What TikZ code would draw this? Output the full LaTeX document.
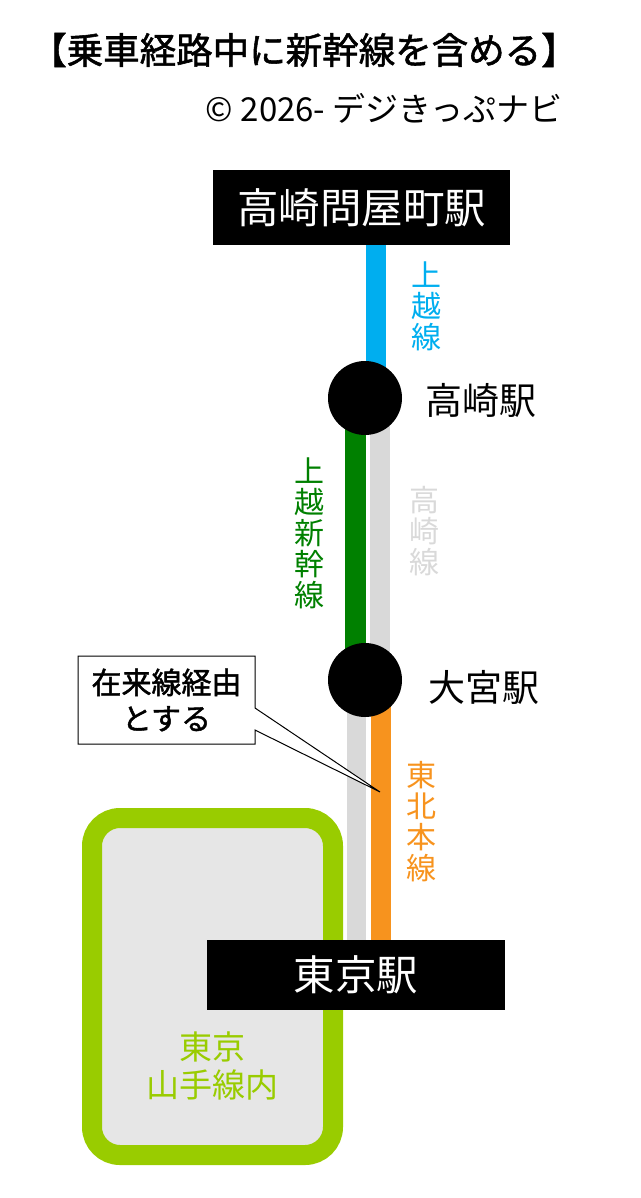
\documentclass[tikz,border=0pt]{standalone}
\usepackage{fontspec}
\setmainfont{Noto Sans CJK JP}
\newfontfamily\jpb{Noto Sans CJK JP}[FakeBold=1.5]
\definecolor{jrblue}{HTML}{00AEEF}
\definecolor{jrgreen}{HTML}{008000}
\definecolor{jrgray}{HTML}{D9D9D9}
\definecolor{jrorange}{HTML}{F7931E}
\definecolor{yam}{HTML}{99CC00}
\definecolor{lg}{HTML}{E6E6E6}
\begin{document}
\begin{tikzpicture}[x=1pt,y=-1pt,
  blk/.style={fill=black,text=white,font=\fontsize{41.5}{41.5}\selectfont,inner sep=0pt},
  stn/.style={circle,fill=black,minimum size=74pt,inner sep=0pt},
  stl/.style={anchor=west,font=\fontsize{37}{37}\selectfont},
  vl/.style={align=center,font=\fontsize{30}{31}\selectfont}]
\useasboundingbox (0,0) rectangle (640,1198);
% lines
\fill[jrblue] (366,245) rectangle (386,398);
\fill[jrgreen] (345,398) rectangle (366,680);
\fill[jrgray] (370,398) rectangle (390,680);
\fill[jrgray] (347,680) rectangle (366,940);
\fill[jrorange] (371,680) rectangle (391,940);
% yamanote
\draw[yam,line width=20pt,fill=lg,rounded corners=28pt] (92,818) rectangle (333,1155);
\node[vl,text=yam,font=\fontsize{33}{38}\selectfont] (ya) at (212,1066) {東京\\山手線内};
% boxes
\node[blk,minimum width=297pt,minimum height=75pt] (t) at (361.5,207.5) {高崎問屋町駅};
\node[blk,minimum width=298pt,minimum height=70pt] (tk) at (356,975) {東京駅};
\node[stn] (s1) at (365,398) {};
\node[stn] (s2) at (365,680) {};
\node[stl] (l1) at (422,400) {高崎駅};
\node[stl] (l2) at (425,687) {大宮駅};
\node[vl,text=jrblue] (v1) at (426,306) {上\\越\\線};
\node[vl,text=jrgreen] (v2) at (309,533) {上\\越\\新\\幹\\線};
\node[vl,text=jrgray] (v3) at (424,531) {高\\崎\\線};
\node[vl,text=jrorange] (v4) at (421,822) {東\\北\\本\\線};
% callout
\coordinate (tip) at (380,792);
\draw[fill=white,line width=1pt] (78,656) -- (255,656) -- (255,708) -- (tip) -- (255,730) -- (255,744) -- (78,744) -- cycle;
\node[align=center,font=\jpb\fontsize{30}{36}\selectfont] (c) at (166.5,700) {在来線経由\\とする};
% titles
\node[font=\jpb\fontsize{36.5}{36.5}\selectfont] (ti) at (304,50) {【乗車経路中に新幹線を含める】};
\node[anchor=east,font=\fontsize{33}{33}\selectfont] (cp) at (566,108) {© 2026- デジきっぷナビ};
\end{tikzpicture}
\end{document}
